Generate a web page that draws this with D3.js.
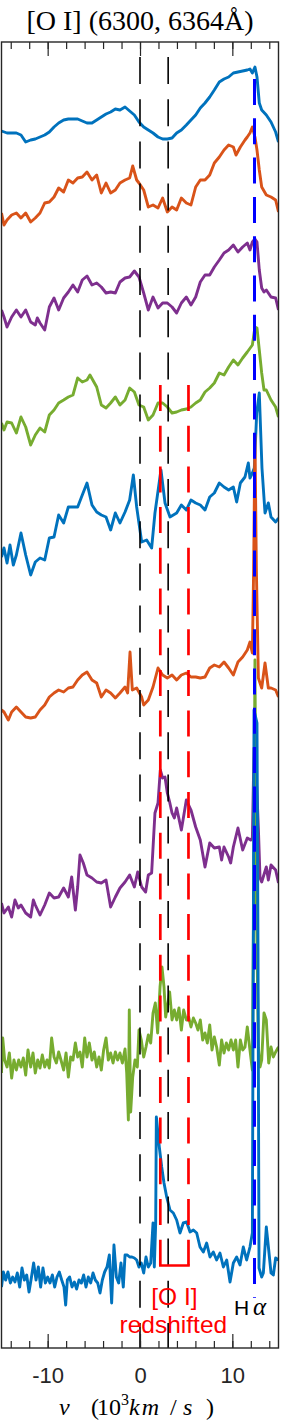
<!DOCTYPE html>
<html>
<head>
<meta charset="utf-8">
<script src="https://cdn.jsdelivr.net/npm/d3@7"></script>
<style>
  body { margin: 0; background: #fff; }
</style>
</head>
<body>
<script>
// offset spectra around [O I] 6300,6364 (v in 10^3 km/s, flux + offset)
var spec1 = [[-15.0,121.7],[-14.40,121.5],[-13.90,121.5],[-13.39,121.5],[-12.89,121.3],[-12.38,120.6],[-11.84,120.8],[-11.34,120.9],[-10.83,121.1],[-10.32,121.3],[-9.82,121.6],[-9.31,122.1],[-8.81,122.5],[-8.27,122.8],[-7.76,122.9],[-7.26,122.9],[-6.75,122.9],[-6.25,122.7],[-5.74,122.5],[-5.20,122.5],[-4.69,122.8],[-4.19,123.1],[-3.68,123.4],[-3.18,123.6],[-2.67,123.9],[-2.17,123.8],[-1.62,124.1],[-1.12,123.7],[-0.61,123.3],[-0.11,122.6],[0.40,122.1],[0.90,121.8],[1.41,121.5],[1.95,121.1],[2.45,120.9],[2.96,120.9],[3.47,121.0],[3.97,121.5],[4.48,121.8],[5.02,122.3],[5.52,122.8],[6.03,123.3],[6.53,124.0],[7.04,124.5],[7.55,125.1],[8.05,125.8],[8.59,126.6],[9.10,126.9],[9.60,127.1],[10.11,127.5],[10.61,127.6],[11.12,127.7],[11.62,127.8],[11.91,127.9],[12.17,127.5],[12.45,128.1],[12.67,127.1],[12.92,124.5],[13.18,123.8],[13.68,123.3],[14.19,122.6],[14.69,121.6],[15.0,120.6]];

var spec2 = [[-15.0,113.5],[-14.73,112.3],[-14.40,112.8],[-13.90,113.3],[-13.39,113.5],[-12.89,113.0],[-12.38,113.5],[-11.84,112.6],[-11.34,113.0],[-10.83,113.5],[-10.32,114.5],[-9.82,114.6],[-9.31,115.1],[-8.81,116.0],[-8.27,115.6],[-7.76,116.8],[-7.26,116.5],[-6.75,117.0],[-6.25,117.1],[-5.74,117.6],[-5.20,116.8],[-4.69,117.3],[-4.19,115.5],[-3.68,116.5],[-3.18,115.5],[-2.67,115.8],[-2.17,116.5],[-1.62,116.8],[-1.12,117.0],[-0.79,118.2],[-0.36,116.8],[-0.11,116.5],[0.40,115.8],[0.90,114.1],[1.41,114.3],[1.95,114.0],[2.45,115.0],[2.96,113.6],[3.47,114.1],[3.97,113.8],[4.48,115.0],[5.02,114.5],[5.52,114.3],[6.03,116.1],[6.53,116.8],[7.04,116.8],[7.55,117.3],[8.05,118.5],[8.59,119.1],[9.10,119.8],[9.60,120.3],[10.11,120.1],[10.40,119.3],[10.87,120.1],[11.37,120.8],[11.62,121.1],[11.91,121.5],[12.17,122.1],[12.45,121.1],[12.67,119.8],[12.92,117.8],[13.18,116.1],[13.68,115.3],[14.19,115.1],[14.69,114.8],[15.0,113.6]];

var spec3 = [[-15.0,103.8],[-14.73,103.1],[-14.40,102.1],[-13.90,103.1],[-13.39,103.8],[-12.89,103.1],[-12.38,103.8],[-11.84,102.6],[-11.34,102.3],[-11.12,103.0],[-10.83,102.5],[-10.32,101.8],[-9.82,104.1],[-9.31,105.0],[-8.81,103.8],[-8.27,105.0],[-7.76,105.6],[-7.26,106.3],[-6.75,105.6],[-6.25,106.8],[-5.74,107.2],[-5.20,106.3],[-4.69,106.5],[-4.19,106.1],[-3.68,105.5],[-3.18,105.6],[-2.67,105.5],[-2.17,106.6],[-1.62,107.0],[-1.12,107.1],[-0.61,107.7],[-0.11,107.1],[0.40,105.5],[0.90,103.8],[1.41,105.1],[1.95,104.0],[2.45,104.5],[2.96,104.5],[3.47,104.1],[3.97,103.5],[4.48,104.5],[5.02,105.1],[5.52,104.3],[6.03,105.1],[6.53,106.6],[7.04,107.3],[7.55,107.3],[8.05,108.1],[8.59,108.8],[9.10,109.5],[9.60,109.8],[10.11,110.3],[10.61,109.6],[11.12,110.1],[11.62,110.5],[11.91,109.8],[12.17,110.6],[12.45,110.9],[12.67,110.6],[12.92,107.8],[13.18,106.0],[13.43,105.6],[13.68,105.8],[14.19,105.1],[14.69,105.0],[15.0,103.8]];

var spec4 = [[-15.0,92.5],[-14.73,91.8],[-14.40,92.6],[-13.90,92.5],[-13.39,91.5],[-12.89,93.1],[-12.38,92.1],[-11.84,90.3],[-11.34,91.3],[-10.83,92.0],[-10.32,91.6],[-9.82,93.3],[-9.31,93.8],[-8.81,94.5],[-8.27,94.8],[-7.76,95.1],[-7.26,95.3],[-6.75,97.0],[-6.25,96.6],[-5.74,96.8],[-5.42,97.3],[-4.69,96.1],[-4.19,94.3],[-3.68,94.0],[-3.18,94.5],[-2.67,95.1],[-2.17,94.3],[-1.62,94.8],[-1.12,96.0],[-0.61,95.6],[-0.11,94.3],[0.40,94.1],[0.90,92.8],[1.41,93.3],[1.95,94.5],[2.45,94.5],[2.96,94.1],[3.47,93.5],[3.97,93.6],[4.48,93.8],[5.02,93.9],[5.52,94.1],[6.03,94.5],[6.53,94.8],[7.04,95.6],[7.55,96.0],[8.05,96.5],[8.59,97.5],[9.10,97.3],[9.60,98.1],[10.11,98.8],[10.61,98.3],[11.12,99.0],[11.62,99.6],[12.17,100.3],[12.45,102.1],[12.67,102.0],[12.92,99.8],[13.18,97.5],[13.43,95.8],[13.68,95.8],[14.19,94.8],[14.69,94.1],[15.0,93.1]];

var spec5 = [[-15.0,79.1],[-14.73,80.0],[-14.40,78.5],[-14.08,80.3],[-13.72,78.3],[-13.39,79.3],[-12.89,81.5],[-12.38,79.3],[-11.84,77.3],[-11.34,78.6],[-10.83,79.0],[-10.32,78.8],[-9.82,81.0],[-9.31,81.1],[-8.81,83.3],[-8.27,82.5],[-7.76,84.1],[-7.26,84.1],[-6.75,84.1],[-6.25,85.3],[-5.74,86.5],[-5.20,84.3],[-4.69,83.6],[-4.19,83.3],[-3.68,83.1],[-3.18,81.8],[-2.67,83.5],[-2.17,82.5],[-1.62,83.6],[-1.12,84.8],[-0.72,87.3],[-0.36,84.1],[0.18,80.6],[0.72,80.8],[1.26,80.0],[1.62,83.5],[2.27,87.8],[2.71,84.5],[3.25,83.1],[3.97,83.5],[4.48,84.3],[5.02,83.8],[5.52,84.8],[6.03,84.5],[6.53,84.3],[7.04,83.8],[7.55,85.1],[8.05,85.5],[8.59,86.5],[9.10,86.1],[9.60,85.8],[10.11,86.1],[10.47,84.6],[10.87,86.5],[11.37,87.1],[11.73,88.5],[11.91,87.0],[12.17,87.5],[12.38,88.0],[12.64,93.5],[12.92,95.5],[13.21,88.0],[13.54,83.5],[13.90,84.5],[14.19,83.1],[14.69,82.6],[15.0,83.0]];

var spec6 = [[-15.0,63.8],[-14.73,63.6],[-14.26,62.8],[-13.90,63.6],[-13.39,64.1],[-12.89,63.6],[-12.38,63.1],[-11.84,63.0],[-11.34,63.1],[-10.83,63.8],[-10.32,64.3],[-9.82,65.1],[-9.31,65.5],[-8.81,65.8],[-8.27,65.6],[-7.76,66.0],[-7.26,66.1],[-6.75,66.8],[-6.25,67.3],[-5.74,67.6],[-5.20,66.8],[-4.69,66.5],[-4.19,65.1],[-3.68,65.8],[-3.18,65.5],[-2.67,65.0],[-2.17,65.5],[-1.62,66.1],[-1.34,65.5],[-1.08,69.6],[-0.83,65.8],[-0.36,66.0],[0.18,65.1],[0.40,64.3],[0.90,64.8],[1.41,66.1],[1.95,68.0],[2.45,67.3],[2.96,67.0],[3.47,67.3],[3.97,66.8],[4.48,67.3],[5.02,67.5],[5.52,67.1],[6.03,67.1],[6.53,67.0],[7.04,67.1],[7.55,68.0],[8.05,68.3],[8.59,68.1],[9.10,68.6],[9.60,68.0],[10.11,67.3],[10.61,68.6],[11.12,69.1],[11.62,69.8],[11.91,70.6],[12.17,69.5],[12.31,78.0],[12.45,91.3],[12.60,78.0],[12.82,67.0],[13.18,66.0],[13.54,68.5],[13.90,66.0],[14.19,66.0],[14.69,65.8],[15.0,65.1]];

var spec7 = [[-15.0,44.5],[-14.73,43.5],[-14.26,44.1],[-13.90,43.1],[-13.54,44.8],[-13.18,44.0],[-12.89,44.3],[-12.38,43.5],[-11.84,43.1],[-11.55,44.8],[-11.34,44.3],[-10.83,43.3],[-10.32,44.3],[-9.82,45.5],[-9.31,45.0],[-8.81,45.1],[-8.27,46.0],[-7.76,45.1],[-7.40,47.1],[-7.00,43.8],[-6.75,46.1],[-6.50,49.3],[-6.14,48.5],[-5.74,47.3],[-5.20,47.0],[-4.69,46.6],[-4.19,46.5],[-3.68,46.8],[-3.18,44.1],[-2.67,45.1],[-2.17,46.0],[-1.62,46.6],[-1.12,47.3],[-0.61,46.1],[-0.25,47.6],[0.18,46.1],[0.61,45.6],[0.90,47.3],[1.26,47.5],[1.62,53.5],[1.95,54.5],[2.20,57.8],[2.45,57.0],[2.71,57.1],[2.96,55.5],[3.21,54.6],[3.47,53.5],[3.72,53.0],[3.97,54.0],[4.48,51.8],[5.02,54.8],[5.52,53.8],[6.03,52.1],[6.53,50.8],[7.04,48.1],[7.55,50.5],[8.05,50.0],[8.59,50.1],[8.84,48.8],[9.10,50.1],[9.60,49.1],[9.82,48.5],[10.11,50.1],[10.61,52.0],[11.12,49.8],[11.62,51.0],[11.99,50.8],[12.17,51.0],[12.35,60.0],[12.56,58.0],[12.82,52.0],[13.00,47.0],[13.18,46.6],[13.68,48.1],[13.90,46.8],[14.19,48.3],[14.69,47.8],[15.0,46.5]];

var spec8 = [[-15.0,27.5],[-14.87,31.0],[-14.66,28.8],[-14.40,28.1],[-14.15,29.5],[-13.90,27.0],[-13.65,28.8],[-13.39,27.8],[-13.14,28.8],[-12.89,28.1],[-12.64,29.0],[-12.38,27.3],[-12.13,29.8],[-11.84,28.1],[-11.59,29.5],[-11.34,27.5],[-11.08,28.8],[-10.83,28.0],[-10.58,29.3],[-10.32,28.1],[-10.07,28.8],[-9.82,28.0],[-9.57,31.0],[-9.31,29.1],[-9.06,28.5],[-8.81,29.6],[-8.56,28.8],[-8.27,27.8],[-8.01,29.5],[-7.76,27.1],[-7.51,29.1],[-7.26,28.8],[-7.00,30.5],[-6.75,29.1],[-6.50,29.6],[-6.25,28.1],[-5.99,31.0],[-5.74,29.1],[-5.49,30.5],[-5.20,28.8],[-4.95,29.6],[-4.69,28.1],[-4.44,29.1],[-4.19,27.8],[-3.94,29.8],[-3.68,31.0],[-3.43,28.8],[-3.18,29.5],[-2.92,28.5],[-2.67,29.6],[-2.42,28.8],[-2.17,29.5],[-1.91,28.5],[-1.62,29.9],[-1.44,27.5],[-1.26,22.8],[-1.16,33.8],[-1.01,23.6],[-0.79,27.1],[-0.54,28.8],[-0.29,28.1],[-0.11,31.8],[0.14,30.8],[0.40,29.1],[0.65,30.1],[0.90,31.3],[1.16,30.5],[1.41,33.5],[1.66,34.5],[1.91,31.5],[2.17,36.1],[2.38,38.1],[2.60,36.1],[2.78,33.1],[2.96,34.1],[3.21,35.6],[3.47,32.8],[3.72,33.8],[3.97,32.8],[4.22,34.0],[4.48,31.8],[4.73,33.8],[5.02,32.8],[5.27,33.1],[5.52,32.1],[5.78,33.0],[6.03,32.5],[6.28,31.8],[6.53,32.8],[6.79,30.8],[7.04,31.5],[7.29,30.5],[7.55,32.3],[7.80,29.8],[8.05,31.1],[8.30,30.1],[8.59,28.3],[8.84,30.8],[9.10,29.5],[9.35,30.5],[9.60,29.8],[9.86,30.8],[10.11,29.8],[10.36,30.8],[10.61,28.1],[10.87,30.8],[11.12,29.8],[11.37,30.1],[11.62,32.1],[11.91,29.8],[12.17,27.8],[12.31,45.0],[12.45,68.8],[12.60,45.0],[12.82,30.0],[13.00,28.1],[13.18,28.8],[13.43,33.5],[13.68,32.8],[13.94,28.5],[14.19,30.1],[14.44,29.1],[14.69,29.6],[15.0,30.1]];

var spec9 = [[-15.0,6.1],[-14.80,7.6],[-14.55,6.8],[-14.30,7.6],[-14.04,6.5],[-13.79,7.1],[-13.54,6.6],[-13.29,7.5],[-13.03,6.1],[-12.78,8.0],[-12.53,6.8],[-12.27,7.3],[-12.02,5.6],[-11.77,7.0],[-11.52,8.5],[-11.26,6.8],[-11.01,8.1],[-10.76,6.1],[-10.51,8.0],[-10.25,6.5],[-10.00,7.1],[-9.75,6.5],[-9.49,7.3],[-9.24,6.1],[-8.99,7.1],[-8.74,7.6],[-8.48,6.8],[-8.23,6.1],[-8.05,4.3],[-7.87,6.8],[-7.62,7.1],[-7.36,6.1],[-7.11,6.6],[-6.86,5.9],[-6.61,6.8],[-6.35,6.5],[-6.10,7.3],[-5.85,6.1],[-5.60,7.1],[-5.34,6.5],[-5.09,7.5],[-4.84,6.8],[-4.58,6.5],[-4.33,5.5],[-4.08,6.8],[-3.83,7.6],[-3.57,8.1],[-3.32,9.3],[-3.07,4.5],[-2.82,10.3],[-2.56,7.1],[-2.31,6.5],[-2.06,8.5],[-1.81,6.1],[-1.62,9.3],[-1.37,9.3],[-1.12,9.1],[-0.87,9.1],[-0.61,9.0],[-0.36,8.8],[-0.11,8.1],[0.14,8.5],[0.40,7.5],[0.65,9.1],[0.90,8.1],[1.16,8.5],[1.41,12.5],[1.55,8.1],[1.70,12.5],[1.77,23.1],[2.09,20.1],[2.35,18.1],[2.60,16.5],[2.89,15.1],[3.25,13.8],[3.61,13.5],[3.97,12.8],[4.33,11.5],[4.69,12.5],[5.05,12.6],[5.42,11.6],[5.78,11.8],[6.14,11.5],[6.50,10.1],[6.86,9.6],[7.22,10.5],[7.58,9.1],[7.94,9.6],[8.30,8.8],[8.66,9.5],[9.03,8.1],[9.39,8.8],[9.75,6.6],[10.11,8.5],[10.47,9.1],[10.83,8.3],[11.19,10.1],[11.55,8.8],[11.91,10.1],[12.17,11.5],[12.27,40.0],[12.35,63.8],[12.67,62.5],[12.78,40.0],[12.89,8.0],[13.18,7.1],[13.36,7.5],[13.68,12.1],[13.94,9.8],[14.19,7.5],[14.44,7.3],[14.69,9.0],[15.0,8.8]];

var spectra = [spec1, spec2, spec3, spec4, spec5, spec6, spec7, spec8, spec9];
var colors = ["#0072BD", "#D95319", "#7E2F8E", "#77AC30"];

// reference velocities
var restLines = [0, 3.05];          // [O I] 6300, 6364 at rest
var shiftedLines = [2.2, 5.25];     // redshifted [O I]
var halpha = 12.4;
var restSpan = [129.1, 0];
var shiftedSpan = [96.3, 8.25];
var halphaSpan = [126.9, 5.0];

var minorTicks = [-14, -12, -10, -8, -6, -4, -2, 0, 2, 4, 6, 8, 10, 12, 14];
var majorTicks = [-10, 0, 10];

var width = 283, height = 1428;
var plotLeft = 1.5, plotRight = 278.5, plotTop = 42, plotBottom = 1348;

var svg = d3.select("body").append("svg")
    .attr("width", width).attr("height", height);

var x = d3.scaleLinear().domain([-15, 15]).range([plotLeft, plotRight]);
var y = d3.scaleLinear().domain([0, 130.6]).range([plotBottom, plotTop]);

svg.append("clipPath").attr("id", "clip")
  .append("rect")
    .attr("x", plotLeft).attr("y", plotTop)
    .attr("width", plotRight - plotLeft).attr("height", plotBottom - plotTop);

var line = d3.line()
    .x(function(d) { return x(d[0]); })
    .y(function(d) { return y(d[1]); });

var plot = svg.append("g").attr("clip-path", "url(#clip)");

plot.selectAll(".spec")
    .data(spectra)
    .enter().append("path")
      .attr("class", "spec")
      .attr("d", line)
      .attr("fill", "none")
      .attr("stroke", function(d, i) { return colors[i % 4]; })
      .attr("stroke-width", 2.9)
      .attr("stroke-linejoin", "round");

// dashed marker lines
function vline(v, span, color, w, dash) {
  plot.append("line")
    .attr("x1", x(v)).attr("x2", x(v))
    .attr("y1", y(span[0])).attr("y2", y(span[1]))
    .attr("stroke", color)
    .attr("stroke-width", w)
    .attr("stroke-dasharray", dash);
}
restLines.forEach(function(v) { vline(v, restSpan, "#000", 1.6, "27,15.2"); });
shiftedLines.forEach(function(v) { vline(v, shiftedSpan, "#FF0000", 2.7, "26,14.7"); });
vline(halpha, halphaSpan, "#0000FF", 3, "26,13.3");

plot.append("line")
    .attr("x1", x(shiftedLines[0]) - 1.3).attr("x2", x(shiftedLines[1]) + 1.3)
    .attr("y1", y(shiftedSpan[1])).attr("y2", y(shiftedSpan[1]))
    .attr("stroke", "#FF0000")
    .attr("stroke-width", 2.7);

// axes
var axisColor = "#262626";
function drawAxis(axis, ypos) {
  var g = svg.append("g")
      .attr("transform", "translate(0," + ypos + ")")
      .call(axis);
  g.select(".domain").remove();
  g.selectAll(".tick line").attr("stroke", axisColor).attr("stroke-width", 1.2);
  return g;
}
drawAxis(d3.axisBottom(x).tickValues(minorTicks).tickSize(-7).tickFormat(""), plotBottom);
drawAxis(d3.axisTop(x).tickValues(minorTicks).tickSize(-7).tickFormat(""), plotTop);
drawAxis(d3.axisTop(x).tickValues(majorTicks).tickSize(-14).tickFormat(""), plotTop);
var gx = drawAxis(d3.axisBottom(x).tickValues(majorTicks).tickSize(-14).tickPadding(19.5)
    .tickFormat(function(d) { return String(d); }), plotBottom);
gx.selectAll("text")
    .attr("fill", axisColor)
    .style("font-family", "'Liberation Sans', Arial, sans-serif")
    .style("font-size", "22px");

svg.append("rect")
    .attr("x", plotLeft).attr("y", plotTop)
    .attr("width", plotRight - plotLeft).attr("height", plotBottom - plotTop)
    .attr("fill", "none")
    .attr("stroke", axisColor)
    .attr("stroke-width", 1.4);

// title
svg.append("text")
    .attr("x", 140).attr("y", 30)
    .attr("text-anchor", "middle")
    .style("font-family", "'Liberation Serif', 'Times New Roman', serif")
    .style("font-size", "28px")
    .text("[O I] (6300, 6364Å)");

// x label
var serif = "'Liberation Serif', 'Times New Roman', serif";
var xl = svg.append("text")
    .attr("y", 1415)
    .style("font-family", serif)
    .style("font-size", "24px")
    .attr("fill", "#000");
xl.append("tspan").attr("x", 59).style("font-style", "italic").text("v");
xl.append("tspan").attr("x", 91).text("(");
xl.append("tspan").attr("x", 97).text("10");
xl.append("tspan").attr("x", 121).attr("dy", -10).style("font-size", "16px").text("3");
xl.append("tspan").attr("x", 129).attr("dy", 10).style("font-style", "italic")
    .style("letter-spacing", "2px").text("km");
xl.append("tspan").attr("x", 170).text("/");
xl.append("tspan").attr("x", 183).style("font-style", "italic").text("s");
xl.append("tspan").attr("x", 206).text(")");

// annotations
var mid = (shiftedLines[0] + shiftedLines[1]) / 2;
svg.append("text")
    .attr("x", x(mid)).attr("y", 1305)
    .attr("text-anchor", "middle")
    .attr("fill", "#FF0000")
    .style("font-family", "'Liberation Sans', Arial, sans-serif")
    .style("font-size", "24.5px")
    .text("[O I]");
svg.append("text")
    .attr("x", x(mid) - 1).attr("y", 1333)
    .attr("text-anchor", "middle")
    .attr("fill", "#FF0000")
    .style("font-family", "'Liberation Sans', Arial, sans-serif")
    .style("font-size", "24.5px")
    .text("redshifted");

var ha = svg.append("text").attr("y", 1315).attr("fill", "#000");
ha.append("tspan").attr("x", 234)
    .style("font-family", "'Liberation Sans', Arial, sans-serif")
    .style("font-size", "21px")
    .text("H");
ha.append("tspan").attr("x", 253)
    .style("font-family", serif)
    .style("font-style", "italic")
    .style("font-size", "25px")
    .text("α");
</script>
</body>
</html>
